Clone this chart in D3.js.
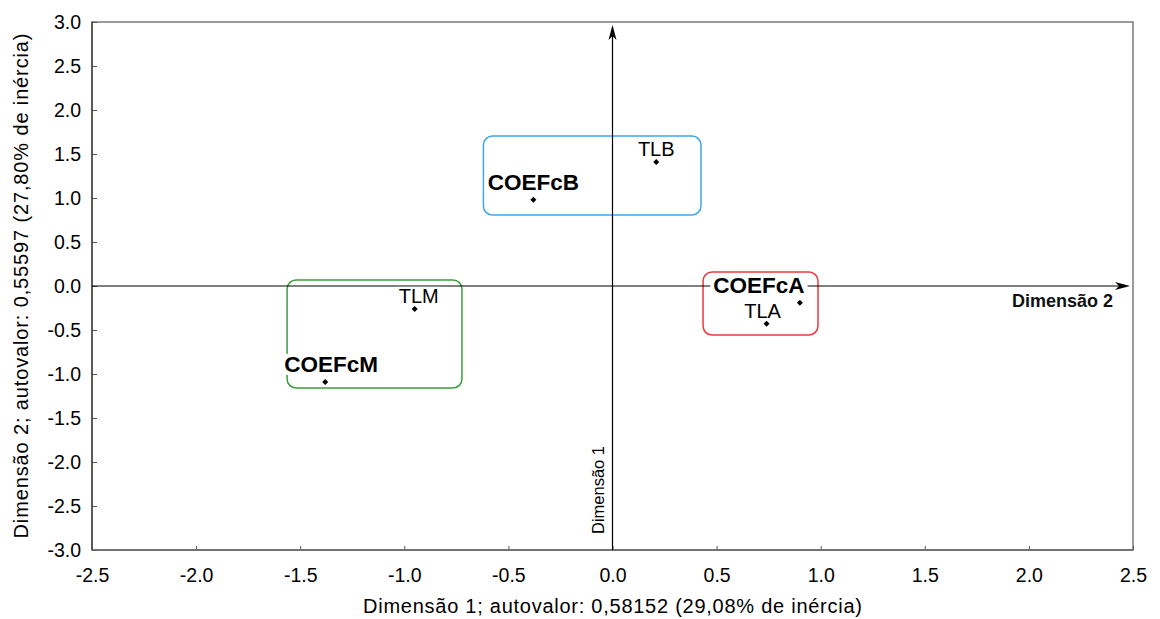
<!DOCTYPE html>
<html>
<head>
<meta charset="utf-8">
<script src="https://cdn.jsdelivr.net/npm/d3@7"></script>
<style>
  body { margin: 0; background: #fff; }
  svg { display: block; font-family: "Liberation Sans", Arial, sans-serif; }
</style>
</head>
<body>
<svg id="chart" width="1160" height="619"></svg>
<script>
// Point labels and their coordinates on the two dimensions
const labels = ["TLB", "COEFcB", "COEFcA", "TLA", "TLM", "COEFcM"];
const dim1 = [0.21, -0.38, 0.90, 0.74, -0.95, -1.38];
const dim2 = [1.41, 0.98, -0.19, -0.43, -0.26, -1.09];

// Grouping boxes (in data units)
const groupNames = ["B", "A", "M"];
const groupX0 = [-0.62, 0.435, -1.563];
const groupX1 = [0.425, 0.987, -0.723];
const groupY0 = [1.705, 0.159, 0.068];
const groupY1 = [0.807, -0.557, -1.159];

// Tick values
const xTicks = [-2.5, -2.0, -1.5, -1.0, -0.5, 0.0, 0.5, 1.0, 1.5, 2.0, 2.5];
const yTicks = [-3.0, -2.5, -2.0, -1.5, -1.0, -0.5, 0.0, 0.5, 1.0, 1.5, 2.0, 2.5, 3.0];

const xTitle = "Dimensão 1; autovalor: 0,58152 (29,08% de inércia)";
const yTitle = "Dimensão 2; autovalor: 0,55597 (27,80% de inércia)";

const svg = d3.select("#chart");
const plotLeft = 92, plotRight = 1133, plotTop = 22, plotBottom = 550;

const x = d3.scaleLinear().domain([-2.5, 2.5]).range([plotLeft, plotRight]);
const y = d3.scaleLinear().domain([-3, 3]).range([plotBottom, plotTop]);

const groupColor = { B: "#3fa6ee", A: "#ee3a3a", M: "#3c9e3c" };

// Frame
svg.append("rect")
  .attr("x", plotLeft).attr("y", plotTop)
  .attr("width", plotRight - plotLeft).attr("height", plotBottom - plotTop)
  .attr("fill", "none")
  .attr("stroke", "#7a7a7a")
  .attr("stroke-width", 1.5);

// Axes with inward ticks
const fmt = d => d.toFixed(1);

const gx = svg.append("g")
  .attr("transform", `translate(0,${plotBottom})`)
  .call(d3.axisBottom(x).tickValues(xTicks).tickFormat(fmt)
    .tickSizeInner(-4).tickSizeOuter(0).tickPadding(18));

const gy = svg.append("g")
  .attr("transform", `translate(${plotLeft},0)`)
  .call(d3.axisLeft(y).tickValues(yTicks).tickFormat(fmt)
    .tickSizeInner(-5).tickSizeOuter(0).tickPadding(11));

[gx, gy].forEach(g => {
  g.select(".domain").remove();
  g.selectAll(".tick line").attr("stroke", "#555");
  g.selectAll(".tick text")
    .attr("font-size", 19.5)
    .attr("fill", "#000")
    .attr("font-family", "'Liberation Sans', Arial, sans-serif");
});

// Left and bottom axis lines a bit darker
svg.append("line")
  .attr("x1", plotLeft).attr("x2", plotLeft).attr("y1", plotTop).attr("y2", plotBottom)
  .attr("stroke", "#444").attr("stroke-width", 1.5);
svg.append("line")
  .attr("x1", plotLeft).attr("x2", plotRight).attr("y1", plotBottom).attr("y2", plotBottom)
  .attr("stroke", "#666").attr("stroke-width", 1.5);

// Axis titles
svg.append("text")
  .attr("x", (plotLeft + plotRight) / 2)
  .attr("y", 613)
  .attr("text-anchor", "middle")
  .attr("font-size", 20)
  .attr("textLength", 499)
  .text(xTitle);

svg.append("text")
  .attr("transform", `translate(28,${y(0)}) rotate(-90)`)
  .attr("text-anchor", "middle")
  .attr("font-size", 20)
  .attr("textLength", 505)
  .text(yTitle);

// Group boxes
groupNames.forEach((g, i) => {
  const x0 = x(groupX0[i]), x1 = x(groupX1[i]);
  const y0 = y(groupY0[i]), y1 = y(groupY1[i]);
  svg.append("rect")
    .attr("x", x0).attr("y", y0)
    .attr("width", x1 - x0).attr("height", y1 - y0)
    .attr("rx", 9).attr("ry", 9)
    .attr("fill", "none")
    .attr("stroke", groupColor[g])
    .attr("stroke-width", 1.5);
});

// Origin axes with arrowheads
const tipX = 1130, tipY = 25;
svg.append("line")
  .attr("x1", plotLeft).attr("x2", tipX - 6)
  .attr("y1", y(0)).attr("y2", y(0))
  .attr("stroke", "#000").attr("stroke-width", 1.2);
svg.append("polygon")
  .attr("points", `${tipX},${y(0)} ${tipX - 15},${y(0) - 4} ${tipX - 11},${y(0)} ${tipX - 15},${y(0) + 4}`)
  .attr("fill", "#000");

svg.append("line")
  .attr("x1", x(0)).attr("x2", x(0))
  .attr("y1", plotBottom).attr("y2", tipY + 6)
  .attr("stroke", "#000").attr("stroke-width", 1.2);
svg.append("polygon")
  .attr("points", `${x(0)},${tipY} ${x(0) - 4},${tipY + 15} ${x(0)},${tipY + 11} ${x(0) + 4},${tipY + 15}`)
  .attr("fill", "#000");

svg.append("text")
  .attr("x", 1113).attr("y", 307)
  .attr("text-anchor", "end")
  .attr("font-size", 18)
  .attr("font-weight", "bold")
  .attr("fill", "#111")
  .text("Dimensão 2");

svg.append("text")
  .attr("transform", `translate(604,534) rotate(-90)`)
  .attr("font-size", 16.5)
  .text("Dimensão 1");

// Points and labels
const points = labels.map((name, i) => ({ name, d1: dim1[i], d2: dim2[i] }));
const nudge = { COEFcA: [-41, 0], TLA: [-4, 0], TLM: [4, 0], COEFcM: [6, 0] };

points.forEach(p => {
  const bold = p.name.startsWith("COEF");
  const [dx, dy] = nudge[p.name] || [0, 0];
  const lx = x(p.d1) + dx;
  const ly = y(p.d2) - (bold ? 10 : 6) + dy;

  const bg = svg.append("rect").attr("fill", "#fff");
  const t = svg.append("text")
    .attr("x", lx).attr("y", ly)
    .attr("text-anchor", "middle")
    .attr("font-size", bold ? 22.5 : 20)
    .attr("font-weight", bold ? "bold" : "normal")
    .text(p.name);
  const bb = t.node().getBBox();
  bg.attr("x", bb.x - 3).attr("y", bb.y + 2)
    .attr("width", bb.width + 6).attr("height", bb.height - 4);

  svg.append("path")
    .attr("transform", `translate(${x(p.d1)},${y(p.d2)}) rotate(45)`)
    .attr("d", d3.symbol(d3.symbolSquare, 18)())
    .attr("fill", "#000");
});
</script>
</body>
</html>
